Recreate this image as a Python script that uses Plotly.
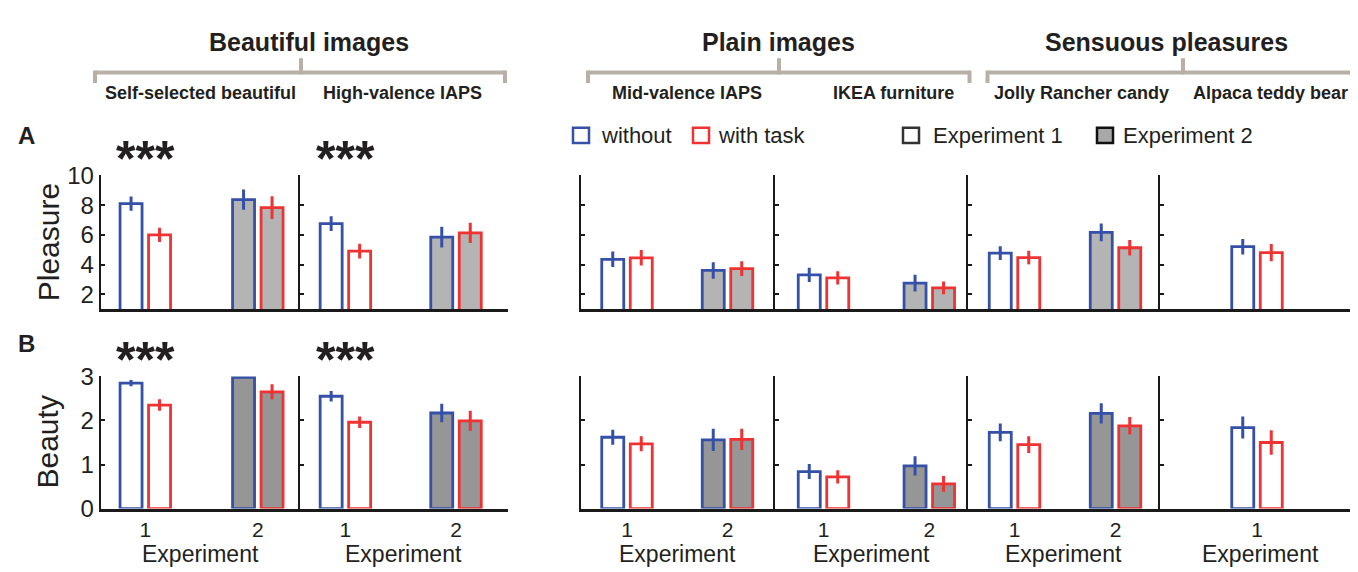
import plotly.graph_objects as go

# ---------------- data ----------------
panels = ["Self-selected beautiful", "High-valence IAPS", "Mid-valence IAPS",
          "IKEA furniture", "Jolly Rancher candy", "Alpaca teddy bear"]
groups = ["Beautiful images", "Plain images", "Sensuous pleasures"]
experiments = [[1, 2], [1, 2], [1, 2], [1, 2], [1, 2], [1]]
exp_labels = ["1", "2"]
x_title = "Experiment"

pleasure_without = [[8.1, 8.37], [6.75, 5.85], [4.35, 3.6], [3.3, 2.75], [4.77, 6.17], [5.2]]
pleasure_without_err = [[0.48, 0.68], [0.5, 0.7], [0.52, 0.56], [0.48, 0.56], [0.46, 0.6], [0.52]]
pleasure_with = [[6.0, 7.83], [4.9, 6.13], [4.45, 3.72], [3.1, 2.43], [4.47, 5.13], [4.8]]
pleasure_with_err = [[0.48, 0.76], [0.5, 0.68], [0.52, 0.5], [0.45, 0.43], [0.46, 0.52], [0.58]]

beauty_without = [[2.85, 2.98], [2.55, 2.17], [1.62, 1.56], [0.84, 0.97], [1.73, 2.16], [1.84]]
beauty_without_err = [[0.07, 0.0], [0.12, 0.21], [0.17, 0.25], [0.17, 0.22], [0.2, 0.23], [0.25]]
beauty_with = [[2.35, 2.65], [1.96, 1.99], [1.47, 1.57], [0.72, 0.56], [1.45, 1.88], [1.5]]
beauty_with_err = [[0.13, 0.17], [0.13, 0.23], [0.17, 0.24], [0.15, 0.18], [0.19, 0.2], [0.28]]

significant = [True, True, False, False, False, False]

# ---------------- style / layout geometry ----------------
W, H = 1358, 572
FONT = "Liberation Sans, Arial, Helvetica, sans-serif"
TXT = "#231f20"
BLUE = "#3550a8"
RED = "#ef3232"
AXC = "#1a1a1a"
FILL_A = ["white", "#b4b4b4"]
FILL_B = ["white", "#969696"]
BRACKET = "#b8afa6"

panel_px = [(92.7, 291.7), (291.7, 500), (572.7, 766.7), (766.7, 959.5), (959.5, 1152), (1152, 1352)]
panel_left = [44.6, 45.7, 46.3, 48.8, 47, 97]
panel_step = [112.5, 110.6, 100.5, 105.8, 101, 102]
BAR_PX = 22.0
GAP_PX = 6.5

rows = [
    dict(name="Pleasure", ypx=(161, 301.3), rng=[1, 10], ticks=[2, 4, 6, 8, 10],
         w=pleasure_without, we=pleasure_without_err, t=pleasure_with, te=pleasure_with_err,
         fill=FILL_A, star_y=134, label="A", label_y=119),
    dict(name="Beauty", ypx=(372, 510.7), rng=[0, 3], ticks=[0, 1, 2, 3],
         w=beauty_without, we=beauty_without_err, t=beauty_with, te=beauty_with_err,
         fill=FILL_B, star_y=345, label="B", label_y=337),
]


def px2x(p):
    return p / W


def px2y(p):
    return 1 - p / H


fig = go.Figure()
layout = dict(width=W, height=H, margin=dict(l=0, r=0, t=0, b=0),
              paper_bgcolor="white", plot_bgcolor="rgba(0,0,0,0)",
              showlegend=False, barmode="overlay",
              font=dict(family=FONT, color=TXT))
annotations = []
shapes = []

k = 0
for r, row in enumerate(rows):
    for i, name in enumerate(panels):
        k += 1
        xa = "x" if k == 1 else f"x{k}"
        ya = "y" if k == 1 else f"y{k}"
        s = panel_step[i]
        x0, x1 = panel_px[i]
        L = panel_left[i]
        rng = [1 - L / s, 1 + (x1 - x0 - L) / s]
        bw = BAR_PX / s
        gap = GAP_PX / s
        xs = experiments[i]
        fills = [row["fill"][e - 1] for e in xs]
        for vals, errs, col, off in [(row["w"][i], row["we"][i], BLUE, -(bw + gap / 2)),
                                     (row["t"][i], row["te"][i], RED, gap / 2)]:
            fig.add_trace(go.Bar(
                x=xs, y=vals, xaxis=xa, yaxis=ya,
                width=[bw] * len(xs), offset=[off] * len(xs),
                marker=dict(color=fills, line=dict(color=col, width=2.8)),
                error_y=dict(type="data", array=errs, visible=True,
                             color=col, thickness=3, width=0),
                hoverinfo="skip"))
        layout["xaxis" if k == 1 else f"xaxis{k}"] = dict(
            domain=[px2x(x0), px2x(x1)], range=rng, anchor=ya,
            showline=True, linecolor=AXC, linewidth=3, ticks="",
            showgrid=False, zeroline=False, fixedrange=True,
            tickmode="array", tickvals=xs, ticktext=[exp_labels[e - 1] for e in xs],
            showticklabels=(r == 1), tickfont=dict(size=21, color=TXT))
        if r == 1:
            annotations.append(dict(text=x_title, x=0.5, xref=f"{xa} domain",
                                    y=px2y(558), yref="paper", showarrow=False,
                                    xanchor="center", yanchor="middle",
                                    font=dict(size=23, color=TXT)))
        y0p, y1p = row["ypx"]
        layout["yaxis" if k == 1 else f"yaxis{k}"] = dict(
            domain=[px2y(y1p), px2y(y0p)], range=row["rng"], anchor=xa,
            showline=True, linecolor=AXC, linewidth=2,
            ticks="inside", ticklen=4, tickwidth=2, tickcolor=AXC,
            tickmode="array", tickvals=row["ticks"],
            showticklabels=(i == 0), tickfont=dict(size=24, color=TXT),
            showgrid=False, zeroline=False, fixedrange=True)
        if significant[i]:
            annotations.append(dict(text="<b>***</b>", x=1, xref=xa, y=px2y(row["star_y"] + 10),
                                    yref="paper", showarrow=False, xanchor="center",
                                    yanchor="middle", font=dict(size=50, color=TXT)))
    # y label
    yc = (row["ypx"][0] + row["ypx"][1]) / 2
    annotations.append(dict(text=row["name"], x=px2x(40), y=px2y(yc), xref="paper", yref="paper",
                            textangle=-90, showarrow=False, xanchor="center", yanchor="middle",
                            font=dict(size=30, color=TXT)))
    annotations.append(dict(text=f"<b>{row['label']}</b>", x=px2x(18), y=px2y(row["label_y"]),
                            xref="paper", yref="paper", showarrow=False,
                            xanchor="center", yanchor="middle", font=dict(size=24, color=TXT)))

# headers
group_title_px = [301, 770, 1158]
bracket_px = [(87, 497, 293), (580, 961.5, 771), (979.5, 1345, 1175)]
for g, title in enumerate(groups):
    annotations.append(dict(text=f"<b>{title}</b>", x=px2x(group_title_px[g]), y=px2y(21),
                            xref="paper", yref="paper", showarrow=False, xanchor="center",
                            yanchor="middle", font=dict(size=25, color=TXT)))
    bx0, bx1, bc = bracket_px[g]
    for (a, b, c, d) in [(bx0, 53, bx1, 53), (bx0, 51, bx0, 64), (bx1, 51, bx1, 64), (bc, 38, bc, 55)]:
        shapes.append(dict(type="line", xref="paper", yref="paper",
                           x0=px2x(a), y0=px2y(b), x1=px2x(c), y1=px2y(d),
                           line=dict(color=BRACKET, width=4)))

sub_px = [192, 394, 679, 885, 1073, 1262]
for i, name in enumerate(panels):
    annotations.append(dict(text=f"<b>{name}</b>", x=px2x(sub_px[i]), y=px2y(74),
                            xref="paper", yref="paper", showarrow=False, xanchor="center",
                            yanchor="middle", font=dict(size=18, color=TXT)))

# legend (drawn manually)
legend_items = [("without", BLUE, "white", 565, 591),
                ("with task", RED, "white", 685, 708),
                ("Experiment 1", "#333333", "white", 895, 923),
                ("Experiment 2", "#111111", "#a8a8a8", 1089, 1113)]
LY = 119
for text, lc, fc, sx, tx in legend_items:
    shapes.append(dict(type="rect", xref="paper", yref="paper",
                       x0=px2x(sx), x1=px2x(sx + 16), y0=px2y(LY + 8), y1=px2y(LY - 8),
                       line=dict(color=lc, width=2.5), fillcolor=fc))
    annotations.append(dict(text=text, x=px2x(tx), y=px2y(LY), xref="paper", yref="paper",
                            showarrow=False, xanchor="left", yanchor="middle",
                            font=dict(size=22, color=TXT)))

layout["annotations"] = annotations
layout["shapes"] = shapes
fig.update_layout(**layout)
fig.write_html("out.html", config={"displayModeBar": False})
